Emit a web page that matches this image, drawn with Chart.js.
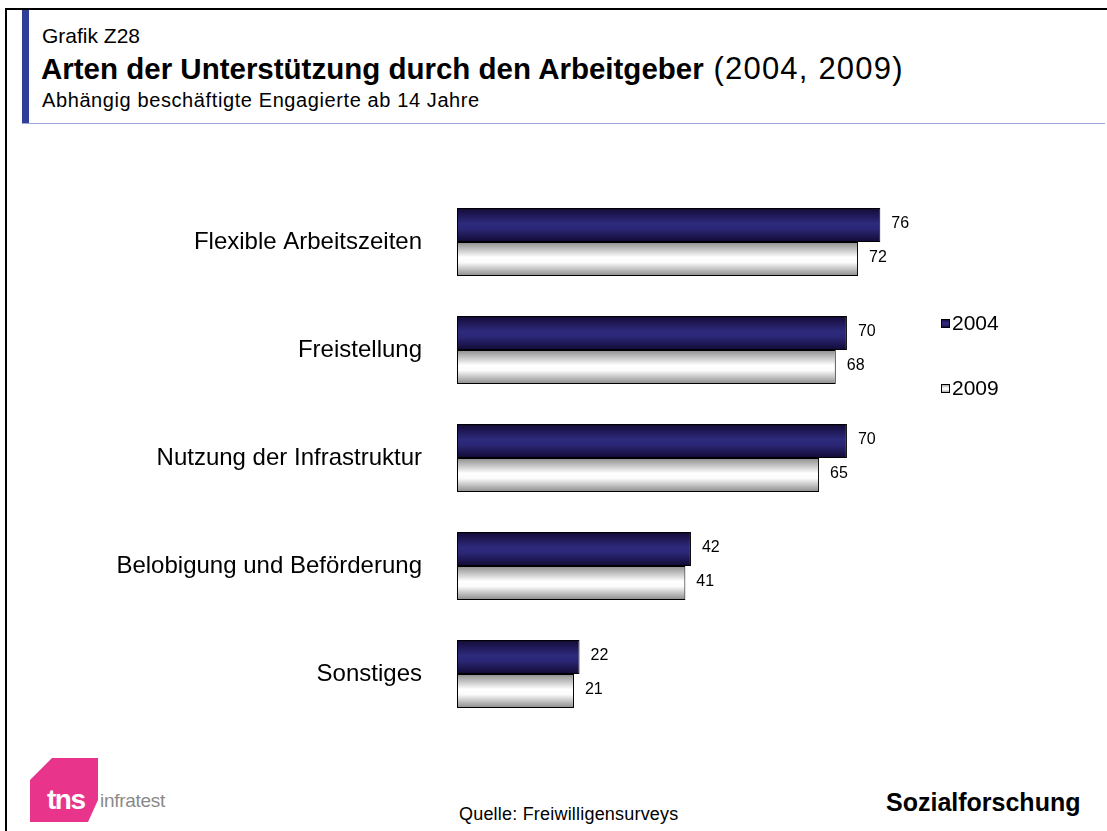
<!DOCTYPE html>
<html>
<head>
<meta charset="utf-8">
<script src="https://cdn.jsdelivr.net/npm/chart.js@4/dist/chart.umd.min.js"></script>
<style>
  html, body { margin: 0; padding: 0; background: #fff; }
  body { width: 1107px; height: 831px; position: relative; overflow: hidden; font-family: "Liberation Sans", Arial, sans-serif; color: #000; }
  .frame-top { position: absolute; left: 5px; top: 8px; width: 1102px; height: 2px; background: #000; }
  .frame-left { position: absolute; left: 5px; top: 8px; width: 2px; height: 823px; background: #000; }
  .accent { position: absolute; left: 22px; top: 10px; width: 7px; height: 113px; background: #2f3e97; }
  .rule { position: absolute; left: 22px; top: 123px; width: 1083px; height: 1px; background: #9ba7dc; }
  .t1 { position: absolute; left: 42px; top: 24px; font-size: 21px; white-space: nowrap; }
  .t2 { position: absolute; left: 41px; top: 51px; font-size: 29.5px; line-height: 36px; white-space: nowrap; }
  .t2 b { font-weight: bold; }
  .t2 span { font-size: 31px; letter-spacing: 1.2px; }
  .t3 { position: absolute; left: 42px; top: 89px; font-size: 20px; letter-spacing: 0.6px; white-space: nowrap; }
  .src { position: absolute; left: 459px; top: 804px; font-size: 18px; letter-spacing: 0.2px; white-space: nowrap; }
  .brand { position: absolute; left: 886px; top: 788px; font-size: 25px; font-weight: bold; white-space: nowrap; }
  .logo { position: absolute; left: 28px; top: 756px; }
  #c { position: absolute; left: 0; top: 0; }
</style>
</head>
<body>
<div class="frame-top"></div>
<div class="frame-left"></div>
<div class="accent"></div>
<div class="rule"></div>
<div class="t1">Grafik Z28</div>
<div class="t2"><b>Arten der Unterstützung durch den Arbeitgeber</b><span> (2004, 2009)</span></div>
<div class="t3">Abhängig beschäftigte Engagierte ab 14 Jahre</div>
<svg class="logo" width="160" height="70" viewBox="0 0 160 70">
  <path d="M24 2 L70 2 L70 44 L60 66 L2 66 L2 24 Z" fill="#e8358b"/>
  <text x="19" y="53" font-family="Liberation Sans, Arial" font-weight="bold" font-size="28" fill="#fff" letter-spacing="-1.5">tns</text>
  <text x="72" y="51" font-family="Liberation Sans, Arial" font-size="19" fill="#8a8a8a" letter-spacing="-0.3">infratest</text>
</svg>
<div class="src">Quelle: Freiwilligensurveys</div>
<div class="brand">Sozialforschung</div>
<canvas id="c" width="1107" height="831"></canvas>
<script>
const categories = ["Flexible Arbeitszeiten", "Freistellung", "Nutzung der Infrastruktur", "Belobigung und Beförderung", "Sonstiges"];
const years = ["2004", "2009"];
const values2004 = [76, 70, 70, 42, 22];
const values2009 = [72, 68, 65, 41, 21];

// vertical shading for each bar: dark navy cylinder and light silver cylinder
function shade(ctx, top, bottom, kind) {
  const g = ctx.createLinearGradient(0, top, 0, bottom);
  if (kind === 0) {
    g.addColorStop(0, "#120a35");
    g.addColorStop(0.45, "#2e2a7c");
    g.addColorStop(0.6, "#2c2878");
    g.addColorStop(1, "#120a35");
  } else {
    g.addColorStop(0, "#8c8c8c");
    g.addColorStop(0.45, "#ffffff");
    g.addColorStop(0.6, "#fbfbfb");
    g.addColorStop(1, "#8a8a8a");
  }
  return g;
}

const barShading = {
  id: "barShading",
  beforeDatasetsDraw(chart) {
    const ctx = chart.ctx;
    chart.data.datasets.forEach((ds, di) => {
      chart.getDatasetMeta(di).data.forEach(el => {
        const h = el.height;
        el.options = Object.assign({}, el.options, {
          backgroundColor: shade(ctx, el.y - h / 2, el.y + h / 2, di)
        });
      });
    });
  }
};

const valueLabels = {
  id: "valueLabels",
  afterDatasetsDraw(chart) {
    const ctx = chart.ctx;
    ctx.save();
    ctx.font = "16px 'Liberation Sans', Arial, sans-serif";
    ctx.fillStyle = "#000";
    ctx.textAlign = "left";
    ctx.textBaseline = "middle";
    chart.data.datasets.forEach((ds, di) => {
      chart.getDatasetMeta(di).data.forEach((el, i) => {
        ctx.fillText(String(ds.data[i]), el.x + 11, el.y - 1);
      });
    });
    ctx.restore();
  }
};

const sideLegend = {
  id: "sideLegend",
  afterDraw(chart) {
    const ctx = chart.ctx;
    const x = 941, ys = [323, 388];
    ctx.save();
    ctx.font = "21px 'Liberation Sans', Arial, sans-serif";
    ctx.textBaseline = "middle";
    chart.data.datasets.forEach((ds, di) => {
      const y = ys[di];
      ctx.fillStyle = shade(ctx, y - 4, y + 5, di);
      ctx.fillRect(x, y - 4, 9, 9);
      ctx.strokeStyle = "#000";
      ctx.lineWidth = 1;
      ctx.strokeRect(x + 0.5, y - 3.5, 8, 8);
      ctx.fillStyle = "#000";
      ctx.fillText(ds.label, x + 11, y + 1);
    });
    ctx.restore();
  }
};

new Chart(document.getElementById("c"), {
  type: "bar",
  data: {
    labels: categories,
    datasets: [
      { label: years[0], data: values2004, backgroundColor: () => "#2e2a7c", borderColor: "#000", borderWidth: 1, borderSkipped: false },
      { label: years[1], data: values2009, backgroundColor: () => "#f0f0f0", borderColor: "#000", borderWidth: 1, borderSkipped: false }
    ]
  },
  options: {
    indexAxis: "y",
    responsive: false,
    animation: false,
    devicePixelRatio: 1,
    layout: { padding: { top: 188, bottom: 103, right: 93, left: 0 } },
    datasets: { bar: { barPercentage: 1, categoryPercentage: 0.63 } },
    plugins: { legend: { display: false }, tooltip: { enabled: false } },
    scales: {
      x: { display: false, min: 0, max: 100 },
      y: {
        afterFit(scale) { scale.width = 457; },
        grid: { display: false, drawTicks: false },
        border: { display: false },
        ticks: { padding: 35, color: "#000", font: { family: "'Liberation Sans', Arial, sans-serif", size: 24 } }
      }
    }
  },
  plugins: [barShading, valueLabels, sideLegend]
});
</script>
</body>
</html>
